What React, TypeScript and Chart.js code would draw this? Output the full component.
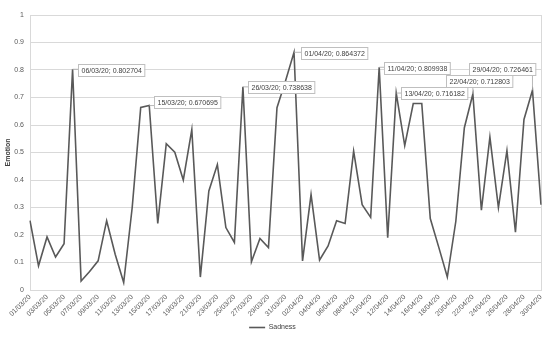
import React, { useEffect, useRef } from "react";
import { Chart, registerables } from "chart.js";

Chart.register(...registerables);

const dates: string[] = [
  "01/03/20", "02/03/20", "03/03/20", "04/03/20", "05/03/20", "06/03/20", "07/03/20", "08/03/20",
  "09/03/20", "10/03/20", "11/03/20", "12/03/20", "13/03/20", "14/03/20", "15/03/20", "16/03/20",
  "17/03/20", "18/03/20", "19/03/20", "20/03/20", "21/03/20", "22/03/20", "23/03/20", "24/03/20",
  "25/03/20", "26/03/20", "27/03/20", "28/03/20", "29/03/20", "30/03/20", "31/03/20",
  "01/04/20", "02/04/20", "03/04/20", "04/04/20", "05/04/20", "06/04/20", "07/04/20", "08/04/20",
  "09/04/20", "10/04/20", "11/04/20", "12/04/20", "13/04/20", "14/04/20", "15/04/20", "16/04/20",
  "17/04/20", "18/04/20", "19/04/20", "20/04/20", "21/04/20", "22/04/20", "23/04/20", "24/04/20",
  "25/04/20", "26/04/20", "27/04/20", "28/04/20", "29/04/20", "30/04/20",
];

const sadness: number[] = [
  0.252, 0.088, 0.193, 0.12, 0.168, 0.802704, 0.033, 0.067, 0.106, 0.252,
  0.13, 0.027, 0.3, 0.664, 0.670695, 0.242, 0.532, 0.501, 0.4, 0.583,
  0.047, 0.36, 0.456, 0.227, 0.173, 0.738638, 0.103, 0.187, 0.154, 0.663,
  0.76, 0.864372, 0.106, 0.347, 0.109, 0.16, 0.252, 0.242, 0.505, 0.31,
  0.264, 0.809938, 0.19, 0.716182, 0.525, 0.678, 0.678, 0.26, 0.155, 0.047,
  0.25, 0.59, 0.712803, 0.29, 0.556, 0.3, 0.507, 0.21, 0.62, 0.726461,
  0.31,
];

const seriesName = "Sadness";
const axisTitle = "Emotion";
const labelledIndices: number[] = [5, 14, 25, 31, 41, 43, 52, 59];

// label box offsets (style): box top-left relative to point pixel
const labelOffsets: Record<number, [number, number]> = {
  5: [5, -5],
  14: [5, -10],
  25: [5, -6],
  31: [7, -5],
  41: [5, -5],
  43: [5, -6],
  52: [-27, -19],
  59: [-63, -27],
};

const FONT = "'Liberation Sans', Arial, sans-serif";

const plotBorder = {
  id: "plotBorder",
  beforeDatasetsDraw(chart: any) {
    const { ctx, chartArea: a } = chart;
    ctx.save();
    ctx.strokeStyle = "#d9d9d9";
    ctx.lineWidth = 1;
    ctx.strokeRect(Math.round(a.left) + 0.5, Math.round(a.top) + 0.5, Math.round(a.right - a.left), Math.round(a.bottom - a.top));
    ctx.restore();
  },
};

const dataLabels = {
  id: "dataLabels",
  afterDatasetsDraw(chart: any) {
    const { ctx } = chart;
    const meta = chart.getDatasetMeta(0);
    ctx.save();
    ctx.font = `7px ${FONT}`;
    ctx.textBaseline = "middle";
    ctx.textAlign = "left";
    labelledIndices.forEach((i) => {
      const pt = meta.data[i];
      const text = `${dates[i]}; ${sadness[i]}`;
      const w = ctx.measureText(text).width + 6;
      const h = 12;
      const [dx, dy] = labelOffsets[i] || [5, -6];
      const bx = Math.round(pt.x + dx);
      const by = Math.round(pt.y + dy);
      const cx = Math.min(Math.max(pt.x, bx), bx + w);
      const cy = Math.min(Math.max(pt.y, by), by + h);
      ctx.strokeStyle = "#a6a6a6";
      ctx.lineWidth = 0.8;
      ctx.beginPath();
      ctx.moveTo(pt.x, pt.y);
      ctx.lineTo(cx, cy);
      ctx.stroke();
      ctx.fillStyle = "#ffffff";
      ctx.fillRect(bx, by, w, h);
      ctx.strokeStyle = "#bfbfbf";
      ctx.lineWidth = 1;
      ctx.strokeRect(bx + 0.5, by + 0.5, w, h);
      ctx.fillStyle = "#404040";
      ctx.fillText(text, bx + 3.5, by + h / 2 + 1);
    });
    ctx.restore();
  },
};

export default function App() {
  const ref = useRef<HTMLCanvasElement | null>(null);

  useEffect(() => {
    document.body.style.margin = "0";
    const canvas = ref.current;
    if (!canvas) return;
    const chart = new Chart(canvas, {
      type: "line",
      data: {
        labels: dates,
        datasets: [
          {
            label: seriesName,
            data: sadness,
            borderColor: "#595959",
            backgroundColor: "#595959",
            borderWidth: 1.6,
            pointRadius: 0,
            tension: 0,
            fill: false,
          },
        ],
      },
      options: {
        animation: false,
        responsive: false,
        devicePixelRatio: 1,
        layout: { padding: { top: 15, right: 9, left: 4, bottom: 2 } },
        plugins: {
          tooltip: { enabled: false },
          legend: {
            position: "bottom",
            labels: {
              usePointStyle: true,
              pointStyle: "line",
              pointStyleWidth: 16,
              color: "#404040",
              padding: 6,
              font: { size: 7, family: FONT },
            },
          },
        },
        scales: {
          x: {
            grid: { display: false, drawTicks: false },
            border: { display: true, color: "#bfbfbf" },
            ticks: {
              autoSkip: false,
              maxRotation: 45,
              minRotation: 45,
              color: "#595959",
              padding: 3,
              font: { size: 7, family: FONT },
              callback: (_v: any, idx: number) => (idx % 2 === 0 ? dates[idx] : ""),
            },
            afterFit: (scale: any) => {
              scale.height = 28;
            },
          },
          y: {
            min: 0,
            max: 1,
            ticks: {
              stepSize: 0.1,
              color: "#595959",
              padding: 6,
              font: { size: 7, family: FONT },
              callback: (v: any) => String(Math.round(Number(v) * 10) / 10),
            },
            grid: { color: "#d9d9d9", drawTicks: false },
            border: { display: true, color: "#bfbfbf" },
            title: {
              display: true,
              text: axisTitle,
              color: "#404040",
              padding: 0,
              font: { size: 7, weight: "bold", family: FONT },
            },
            afterFit: (scale: any) => {
              scale.width = 26;
            },
          },
        },
      },
      plugins: [plotBorder, dataLabels],
    });
    return () => chart.destroy();
  }, []);

  return (
    <div style={{ position: "absolute", left: 0, top: 0, width: 550, height: 343, background: "#fff" }}>
      <canvas ref={ref} width={550} height={343} />
    </div>
  );
}
